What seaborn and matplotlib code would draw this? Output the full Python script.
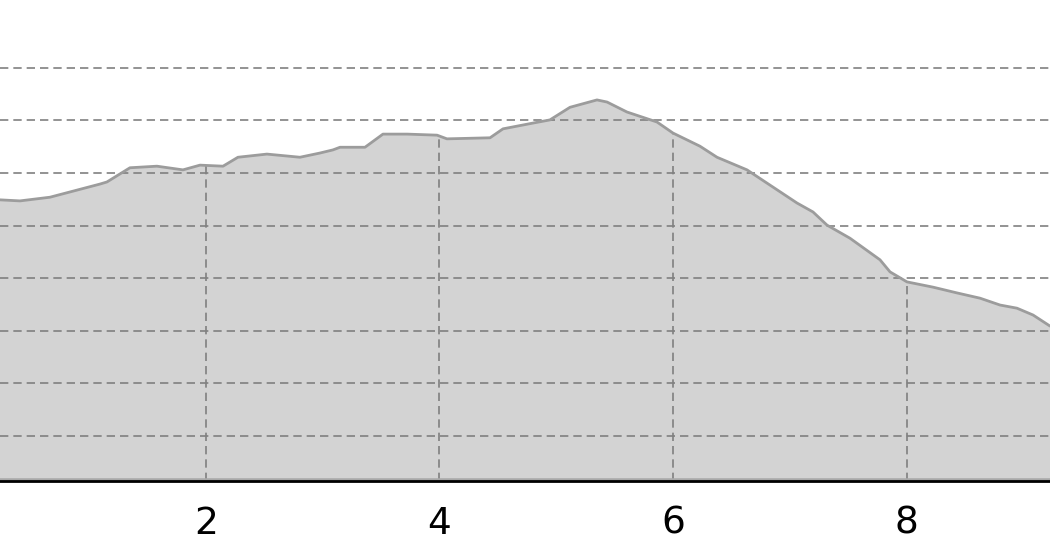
import numpy as np
import seaborn as sns
import pandas as pd
from matplotlib import pyplot as plt

# профиль: расстояние и высота
distance = [0.236, 0.407, 0.664, 1.092, 1.152, 1.349, 1.580, 1.803, 1.949, 2.146,
            2.274, 2.522, 2.805, 2.976, 3.088, 3.148, 3.362, 3.516, 3.722, 3.979,
            4.064, 4.433, 4.544, 4.801, 4.946, 5.118, 5.349, 5.435, 5.606, 5.863,
            6.000, 6.231, 6.377, 6.634, 6.831, 7.062, 7.199, 7.319, 7.516, 7.773,
            7.859, 8.004, 8.227, 8.433, 8.630, 8.801, 8.946, 9.084, 9.229]
elevation = [54.9, 54.7, 55.4, 57.9, 58.3, 61.0, 61.3, 60.6, 61.5, 61.3,
             63.0, 63.6, 63.0, 63.8, 64.4, 64.9, 64.9, 67.4, 67.4, 67.2,
             66.5, 66.7, 68.4, 69.5, 70.1, 72.5, 73.9, 73.5, 71.6, 69.7,
             67.6, 65.1, 63.0, 60.6, 57.7, 54.3, 52.6, 50.1, 47.6, 43.5,
             41.2, 39.3, 38.3, 37.2, 36.2, 34.9, 34.3, 33.0, 30.9]
x_ticks = [2, 4, 6, 8]
y_ticks = [10, 20, 30, 40, 50, 60, 70, 80]

df = pd.DataFrame({'distance': distance, 'elevation': elevation})

sns.set_style('white')
plt.rcParams['font.family'] = ['DejaVu Sans']

fig = plt.figure(figsize=(10.5, 5.6), dpi=100)
ax = fig.add_axes([0, 79 / 560, 1, 481 / 560])

y_min = 1.44
ax.fill_between(df['distance'], df['elevation'], y_min, color='#d3d3d3',
                linewidth=0, zorder=1)
sns.lineplot(data=df, x='distance', y='elevation', color='#9c9c9c',
             linewidth=2.0, ax=ax, zorder=3)
# серая кромка заливки над осью
ax.axhline(y_min, color='#a8a8a8', linewidth=4, zorder=3.5)

# вертикальные линии только под кривой
tops = np.interp(x_ticks, df['distance'], df['elevation'])
ax.vlines(x_ticks, y_min, tops, colors='#808080', linestyles=(0, (5, 3)),
          linewidth=1.2, zorder=2)

ax.set_xlim(0.236, 9.229)
ax.set_ylim(y_min, 92.9)
ax.set_xticks(x_ticks)
ax.set_yticks(y_ticks)
ax.set_yticklabels([])
ax.yaxis.grid(True, color='#808080', linestyle=(0, (5, 3)), linewidth=1.2)
ax.xaxis.grid(False)
ax.set_axisbelow(False)
ax.set_xlabel('')
ax.set_ylabel('')
ax.tick_params(axis='x', length=0, pad=18, labelsize=27, colors='black')
ax.tick_params(axis='y', length=0)

for side in ['top', 'left', 'right']:
    ax.spines[side].set_visible(False)
ax.spines['bottom'].set_color('black')
ax.spines['bottom'].set_linewidth(2)
ax.spines['bottom'].set_zorder(4)

fig.savefig('out.png', dpi=100)
